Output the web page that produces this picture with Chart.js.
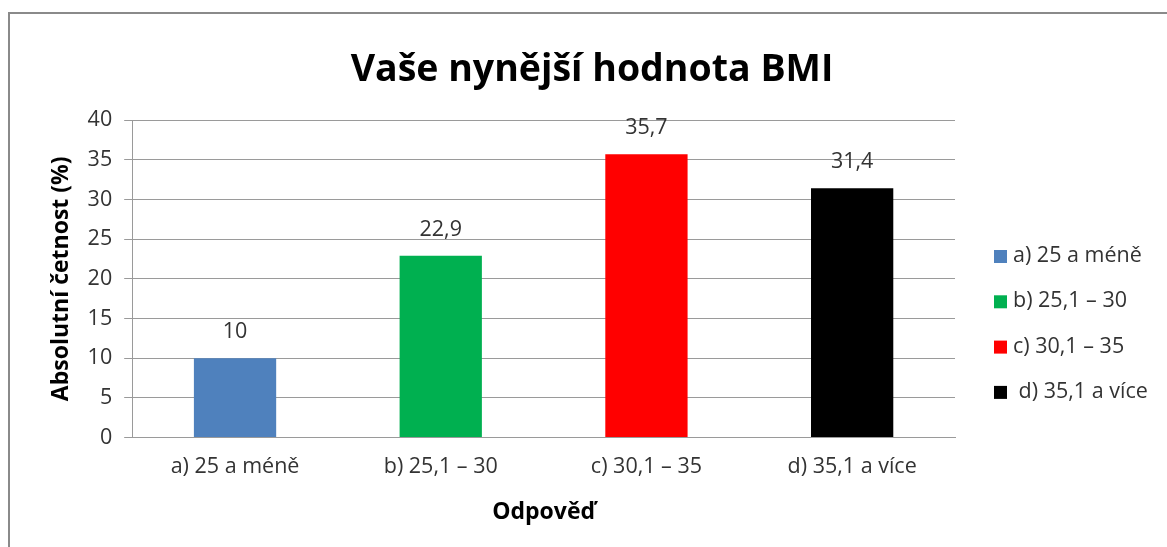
<!DOCTYPE html>
<html>
<head>
<meta charset="utf-8">
<script src="https://cdn.jsdelivr.net/npm/chart.js@4.4.1/dist/chart.umd.min.js"></script>
<style>
  html, body { margin: 0; padding: 0; background: #fff; overflow: hidden; }
  #frame {
    position: absolute; left: 8px; top: 12px;
    width: 1200px; height: 600px;
    border-left: 2px solid #8a8a8a; border-top: 2px solid #8a8a8a;
  }
  canvas { display: block; }
</style>
</head>
<body>
<div id="frame">
  <canvas id="bmiChart" width="1157" height="533"></canvas>
</div>
<script>
// chart data
const categories = ["a) 25 a méně", "b) 25,1 – 30", "c) 30,1 – 35", "d) 35,1 a více"];
const legendLabels = ["a) 25 a méně", "b) 25,1 – 30", "c) 30,1 – 35", " d) 35,1 a více"];
const percentValues = [10, 22.9, 35.7, 31.4];
const barColors = ["#4f81bd", "#00b050", "#ff0000", "#000000"];

const fontFamily = "'Open Sans', 'Noto Sans', sans-serif";
const textSize = 21.5;
const textColor = "#333";

// values above the bars, czech decimal comma
const valueLabels = {
  id: "valueLabels",
  afterDatasetsDraw(chart) {
    const c = chart.ctx;
    const meta = chart.getDatasetMeta(0);
    c.save();
    c.font = textSize + "px " + fontFamily;
    c.fillStyle = textColor;
    c.textAlign = "center";
    c.textBaseline = "middle";
    meta.data.forEach(function (bar, i) {
      const txt = String(percentValues[i]).replace(".", ",");
      c.fillText(txt, bar.x, bar.y - 26);
    });
    c.restore();
  }
};

// legend on the right, drawn by hand so it sits lower like the original
const sideLegend = {
  id: "sideLegend",
  afterDraw(chart) {
    const c = chart.ctx;
    const x = chart.chartArea.right + 39;
    const y0 = 242;
    const step = 45.3;
    c.save();
    c.font = textSize + "px " + fontFamily;
    c.textBaseline = "middle";
    c.textAlign = "left";
    legendLabels.forEach(function (lab, i) {
      const y = y0 + i * step;
      c.fillStyle = barColors[i];
      c.fillRect(x, y - 6, 13, 13);
      c.fillStyle = textColor;
      c.fillText(lab, x + 19, y);
    });
    c.restore();
  }
};

const ctx = document.getElementById("bmiChart");

const config = {
  type: "bar",
  data: {
    labels: categories,
    datasets: [
      {
        data: percentValues,
        backgroundColor: barColors,
        categoryPercentage: 1.0,
        barPercentage: 0.4
      }
    ]
  },
  options: {
    responsive: false,
    animation: false,
    layout: { padding: { left: 36, right: 29, top: 14, bottom: 21 } },
    plugins: {
      legend: { display: false },
      tooltip: { enabled: false },
      title: {
        display: true,
        text: "Vaše nynější hodnota BMI",
        color: "#000",
        font: { family: fontFamily, size: 37.5, weight: "bold" },
        padding: { top: 20, bottom: 27 }
      }
    },
    scales: {
      x: {
        grid: { display: false, drawTicks: false },
        border: { color: "#9a9a9a", width: 1 },
        ticks: { color: textColor, font: { family: fontFamily, size: textSize }, padding: 16, maxRotation: 0 },
        title: {
          display: true,
          text: "Odpověď",
          color: "#000",
          font: { family: fontFamily, size: 23, weight: "bold" },
          padding: { top: 3, bottom: 0 }
        }
      },
      y: {
        min: 0,
        max: 40,
        ticks: { stepSize: 5, color: textColor, font: { family: fontFamily, size: textSize }, padding: 12 },
        grid: { color: "#9a9a9a", tickLength: 8 },
        border: { color: "#9a9a9a", width: 1 },
        title: {
          display: true,
          text: "Absolutní četnost (%)",
          color: "#000",
          font: { family: fontFamily, size: 23, weight: "bold" },
          padding: { top: 2, bottom: 0 }
        }
      },
      // empty scale on the right, only keeps room for the legend
      legendSpace: {
        type: "linear",
        position: "right",
        grid: { display: false, drawTicks: false },
        border: { display: false },
        ticks: { display: false },
        afterFit(scale) {
          scale.width = 183;
        }
      }
    }
  },
  plugins: [valueLabels, sideLegend]
};

const bmiChart = new Chart(ctx, config);
</script>
</body>
</html>
